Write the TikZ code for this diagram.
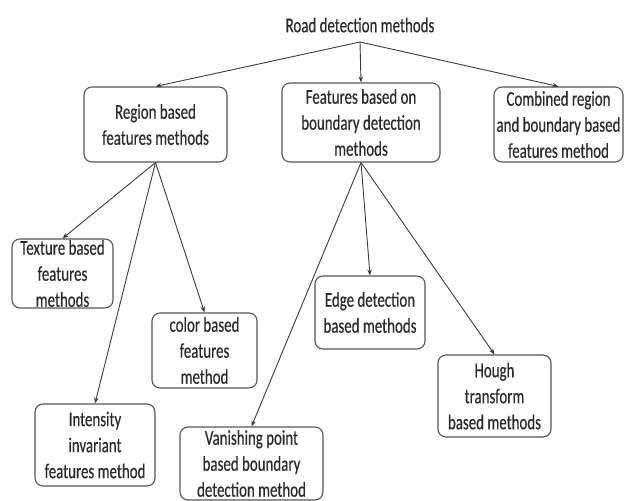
\documentclass[tikz,border=0pt]{standalone}
\usepackage{fontspec}
\setmainfont[FakeStretch=0.71,FakeBold=0.4]{Carlito}
\usetikzlibrary{arrows.meta}
\definecolor{boxgray}{HTML}{555555}
\definecolor{linegray}{HTML}{3A3A3A}
\definecolor{textgray}{HTML}{2A2A2A}
\begin{document}
\begin{tikzpicture}[x=1pt,y=-1pt,
  lbl/.style={text=textgray, font=\fontsize{21}{26}\selectfont, align=center, inner sep=0pt},
  box/.style={lbl, draw=boxgray, line width=1.1pt, rounded corners=8pt},
  conn/.style={draw=linegray, line width=0.9pt, -{Stealth[length=6pt,width=4.5pt]}}]
\useasboundingbox (0,0) rectangle (625,501);
\node[lbl] (title) at (360,25) {Road detection methods};
\coordinate (t0) at (360,42);
\node[box, minimum width=143pt, minimum height=75pt] (region) at (155.5,124.5) {Region based\\features methods};
\node[box, minimum width=158pt, minimum height=79pt] (boundary) at (361,122.5) {Features based on\\boundary detection\\methods};
\node[box, minimum width=129pt, minimum height=75pt] (combined) at (558.5,124.5) {Combined region\\and boundary based\\features method};
\node[box, minimum width=101pt, minimum height=69pt] (texture) at (62.5,273.5) {Texture based\\features\\methods};
\node[box, minimum width=105pt, minimum height=75pt] (color) at (204.5,350.5) {color based\\features\\method};
\node[box, minimum width=120pt, minimum height=82pt] (intensity) at (95,445) {Intensity\\invariant\\features method};
\node[box, minimum width=143pt, minimum height=73pt] (vanishing) at (251.5,463.5) {Vanishing point\\based boundary\\detection method};
\node[box, minimum width=110pt, minimum height=73pt] (edge) at (370,312.5) {Edge detection\\based methods};
\node[box, minimum width=113pt, minimum height=82pt] (hough) at (494.5,396) {Hough\\transform\\based methods};
\draw[conn] (t0) -- (region.north);
\draw[conn] (t0) -- (boundary.north);
\draw[conn] (t0) -- (combined.north);
\draw[conn] (region.south) -- (texture.north);
\draw[conn] (region.south) -- (intensity.north);
\draw[conn] (region.south) -- (color.north);
\draw[conn] (boundary.south) -- (vanishing.north);
\draw[conn] (boundary.south) -- (edge.north);
\draw[conn] (boundary.south) -- (hough.north);
\end{tikzpicture}
\end{document}
